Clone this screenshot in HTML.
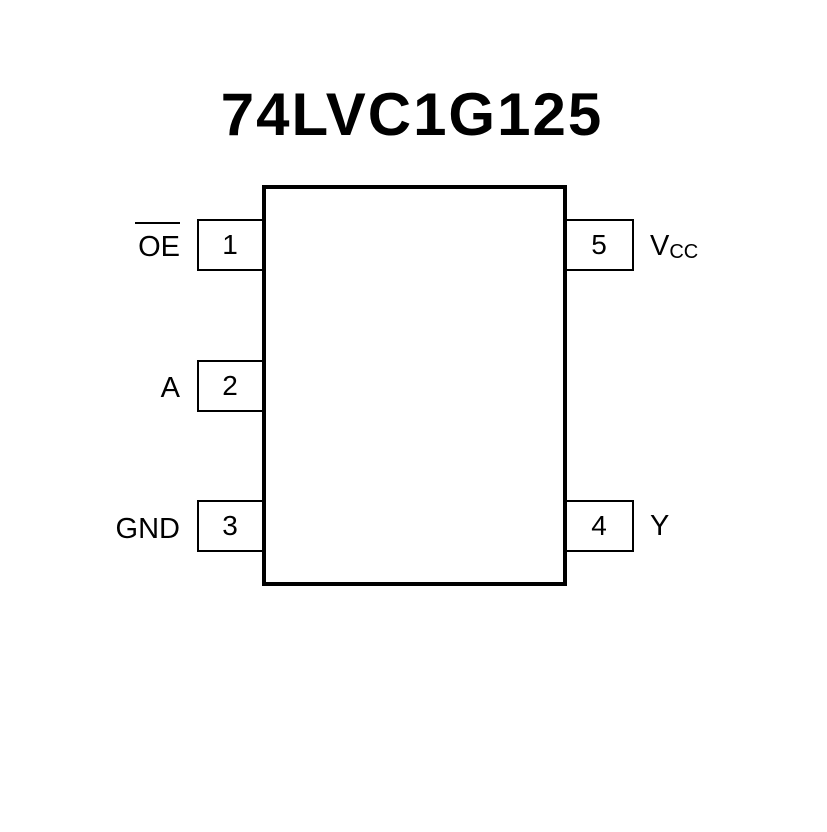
<!DOCTYPE html>
<html><head><meta charset="utf-8"><style>
body{margin:0;background:#fff}
</style></head><body>
<svg width="827" height="827" viewBox="0 0 827 827" xmlns="http://www.w3.org/2000/svg" font-family="Liberation Sans, Arial, sans-serif">
<rect width="827" height="827" fill="#fff"/>
<text x="412" y="135" font-size="60" font-weight="bold" text-anchor="middle" letter-spacing="2">74LVC1G125</text>
<rect x="264" y="187" width="301" height="397" fill="none" stroke="#000" stroke-width="4"/>
<g fill="none" stroke="#000" stroke-width="2">
<path d="M262 220H198V270H262"/>
<path d="M262 361H198V411H262"/>
<path d="M262 501H198V551H262"/>
<path d="M567 220H633V270H567"/>
<path d="M567 501H633V551H567"/>
</g>
<g font-size="28" text-anchor="middle">
<text x="230" y="254">1</text>
<text x="230" y="395">2</text>
<text x="230" y="535">3</text>
<text x="599" y="254">5</text>
<text x="599" y="535">4</text>
</g>
<g font-size="29" text-anchor="end">
<text x="180" y="256">OE</text>
<text x="180" y="397">A</text>
<text x="180" y="538">GND</text>
</g>
<line x1="135" y1="223" x2="180" y2="223" stroke="#000" stroke-width="2"/>
<text x="650" y="255" font-size="29">V<tspan font-size="20" dy="3">CC</tspan></text>
<text x="650" y="535" font-size="29">Y</text>
</svg>
</body></html>
